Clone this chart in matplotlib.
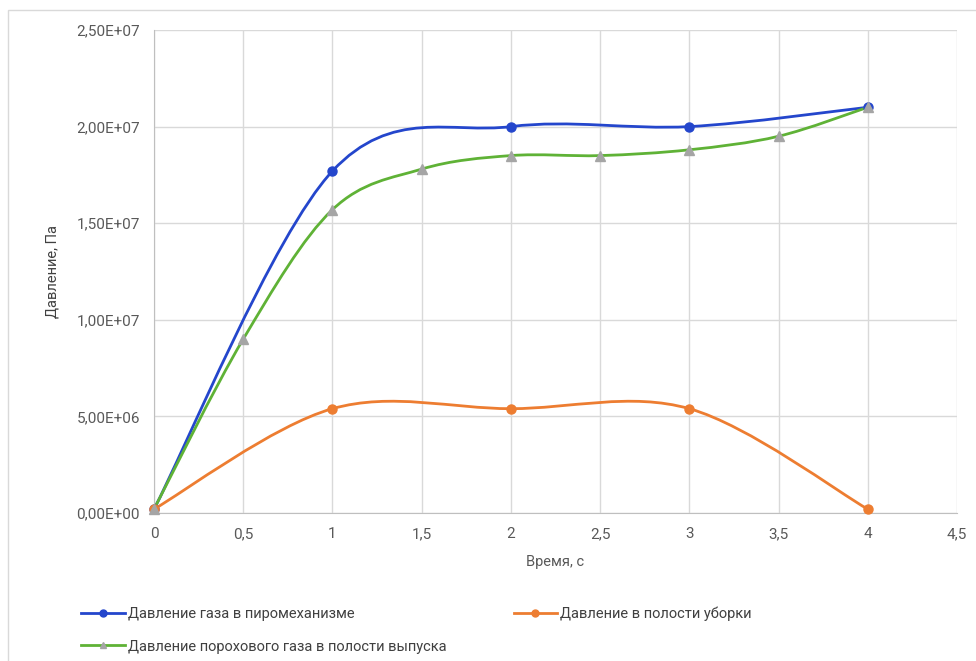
import matplotlib

matplotlib.use("Agg")
import matplotlib.pyplot as plt
from matplotlib.path import Path
from matplotlib.patches import PathPatch, Rectangle
from matplotlib.ticker import FuncFormatter, MultipleLocator

plt.rcParams["font.family"] = ["Roboto", "DejaVu Sans"]

# Data
t_gas = [0, 1, 2, 3, 4]
p_gas = [2.0e5, 1.77e7, 2.0e7, 2.0e7, 2.1e7]

t_clean = [0, 1, 2, 3, 4]
p_clean = [2.0e5, 5.4e6, 5.4e6, 5.4e6, 2.0e5]

t_powder = [0, 0.5, 1, 1.5, 2, 2.5, 3, 3.5, 4]
p_powder = [2.0e5, 9.0e6, 1.57e7, 1.78e7, 1.85e7, 1.85e7, 1.88e7, 1.95e7, 2.1e7]

labels = [
    "Давление газа в пиромеханизме",
    "Давление в полости уборки",
    "Давление порохового газа в полости выпуска",
]

BLUE = "#2446cc"
ORANGE = "#ed7d31"
GREEN = "#5fb236"
GREY_MARK = "#a5a5a5"
TXT = "#595959"


def smooth_path(xs, ys):
    # Excel-like smoothed line: Catmull-Rom as cubic Bezier segments
    n = len(xs)
    verts = [(xs[0], ys[0])]
    codes = [Path.MOVETO]
    for i in range(n - 1):
        i0 = max(i - 1, 0)
        i3 = min(i + 2, n - 1)
        c1 = (xs[i] + (xs[i + 1] - xs[i0]) / 6.0, ys[i] + (ys[i + 1] - ys[i0]) / 6.0)
        c2 = (xs[i + 1] - (xs[i3] - xs[i]) / 6.0, ys[i + 1] - (ys[i3] - ys[i]) / 6.0)
        verts += [c1, c2, (xs[i + 1], ys[i + 1])]
        codes += [Path.CURVE4] * 3
    return Path(verts, codes)


fig = plt.figure(figsize=(9.76, 6.61), dpi=100)
fig.patch.set_facecolor("white")
fig.patches.append(Rectangle((8 / 976, -0.01), 1.0, 1 - 10 / 661 + 0.01,
                             transform=fig.transFigure, fill=False,
                             edgecolor="#d9d9d9", linewidth=1.0))

ax = fig.add_axes([154 / 976, 1 - 513 / 661, (957 - 154) / 976, (513 - 30) / 661])

series = [
    (t_gas, p_gas, BLUE, "o", BLUE, labels[0]),
    (t_clean, p_clean, ORANGE, "o", ORANGE, labels[1]),
    (t_powder, p_powder, GREEN, "^", GREY_MARK, labels[2]),
]
handles = []
for xs, ys, col, mk, mcol, lab in series:
    ax.add_patch(PathPatch(smooth_path(xs, ys), facecolor="none", edgecolor=col,
                           linewidth=2.0, zorder=3))
    ax.plot(xs, ys, linestyle="none", marker=mk, markersize=6.5,
            markerfacecolor=mcol, markeredgecolor=mcol, zorder=4, clip_on=False)
    h, = ax.plot([], [], color=col, linewidth=2.0, marker=mk, markersize=5,
                 markerfacecolor=mcol, markeredgecolor=mcol, label=lab)
    handles.append(h)

ax.set_xlim(0, 4.5)
ax.set_ylim(0, 2.5e7)
ax.xaxis.set_major_locator(MultipleLocator(0.5))
ax.yaxis.set_major_locator(MultipleLocator(5e6))
ax.yaxis.set_major_formatter(FuncFormatter(lambda v, p: f"{v:.2E}".replace(".", ",")))
ax.xaxis.set_major_formatter(
    FuncFormatter(lambda v, p: f"{int(v)}" if v == int(v) else f"{v:g}".replace(".", ","))
)
ax.grid(True, color="#d9d9d9", linewidth=1.0)
ax.set_axisbelow(True)
for s in ["top", "right"]:
    ax.spines[s].set_visible(False)
for s in ["left", "bottom"]:
    ax.spines[s].set_color("#bfbfbf")
ax.tick_params(length=0, labelsize=11, colors=TXT, pad=10)

ax.set_xlabel("Время, с", fontsize=10.5, color=TXT, labelpad=10)
ax.set_ylabel("Давление, Па", fontsize=10.5, color="#404040", labelpad=12)

fig.legend([handles[0], handles[2], handles[1]],
           [labels[0], labels[2], labels[1]],
           ncol=2, loc="upper left", bbox_to_anchor=(68 / 976, 1 - 593 / 661),
           frameon=False, fontsize=10.5, labelcolor="#404040", handlelength=3,
           handletextpad=0.2, columnspacing=4.6, labelspacing=1.3)

fig.savefig("out.png", dpi=100, facecolor="white")
